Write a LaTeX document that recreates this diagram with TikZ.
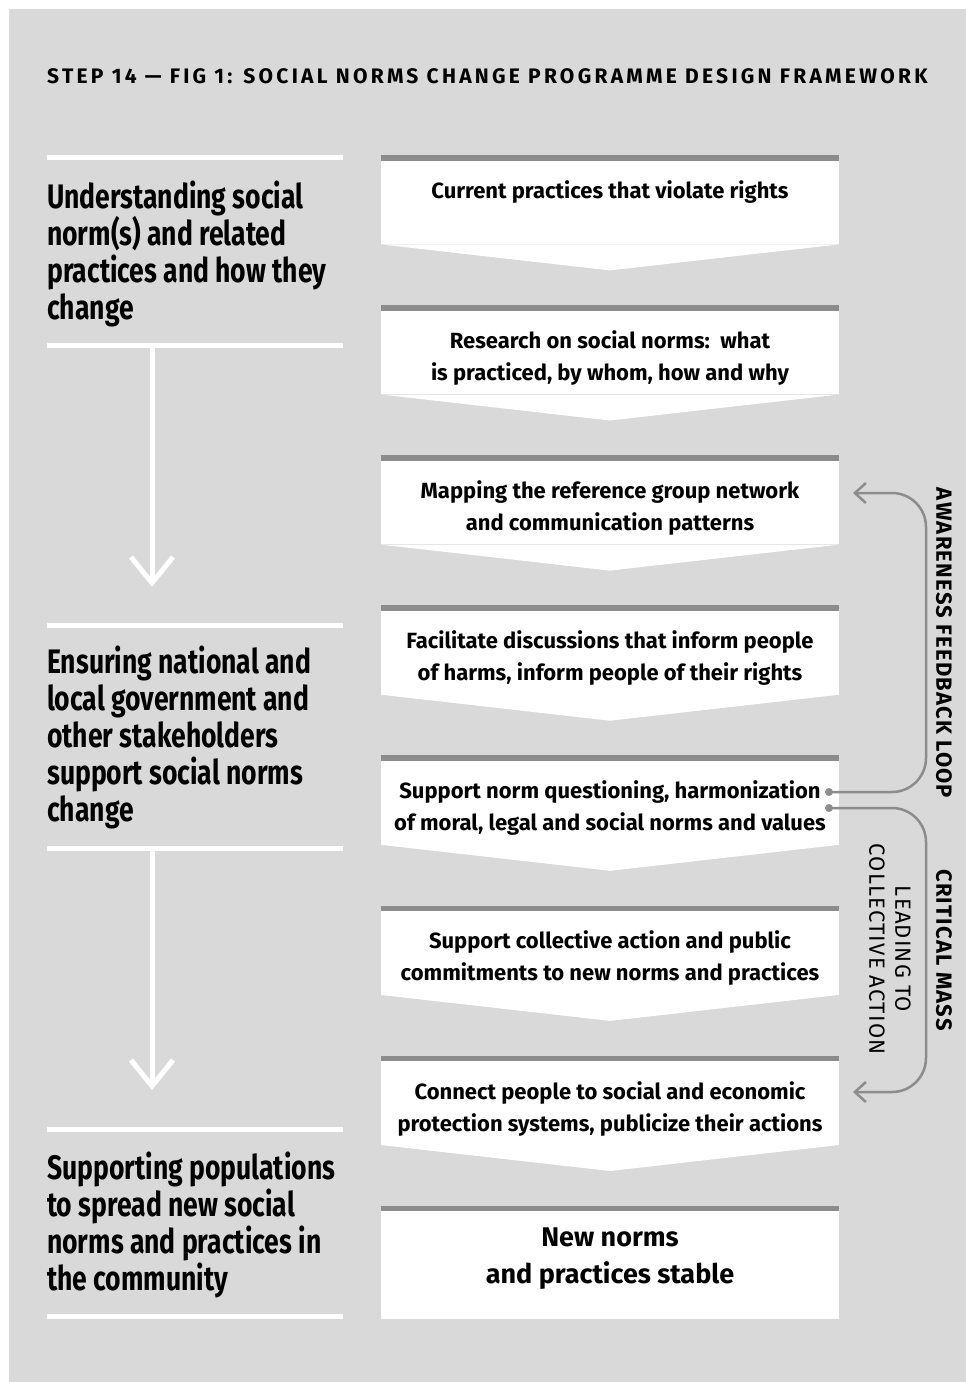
\documentclass[tikz,border=0pt]{standalone}
\usepackage{fontspec}
\setmainfont{Fira Sans}
\newfontfamily\headfont[FakeStretch=0.78]{Fira Sans}
\newfontfamily\boxfont{Fira Sans}
\newfontfamily\titlefont[LetterSpace=15.5]{Fira Sans}
\newfontfamily\labelfont[LetterSpace=5.5]{Fira Sans}
\usetikzlibrary{arrows.meta,positioning}

\definecolor{panelgray}{HTML}{D9D9D9}
\definecolor{bargray}{HTML}{8C8C8C}

\tikzset{
  stage/.style={fill=white, minimum width=458pt, minimum height=89pt, inner sep=0pt, anchor=north},
  stagetext/.style={align=center, inner sep=0pt, font=\boxfont\bfseries\fontsize{22}{32}\selectfont},
  topbar/.style={draw=bargray, line width=5.5pt},
  phasehead/.style={align=left, anchor=north west, inner sep=0pt, font=\headfont\bfseries\fontsize{34}{37}\selectfont},
  sepline/.style={white, line width=5pt},
  phasearrow/.style={white, line width=5pt, -{Straight Barb[length=26pt,width=42pt,line width=5pt]}},
  feedback/.style={bargray, line width=2.5pt, rounded corners=34pt, -{Straight Barb[length=11pt,width=20pt,line width=2.5pt]}},
  dot/.style={circle, fill=bargray, inner sep=0pt, minimum size=8pt},
  looplabel/.style={rotate=-90, inner sep=0pt, font=\labelfont\bfseries\fontsize{22}{26}\selectfont},
  figtitle/.style={inner sep=0pt, font=\titlefont\bfseries\fontsize{21}{23}\selectfont}
}

\begin{document}
\begin{tikzpicture}[x=1pt, y=-1pt, node distance=60.7pt]

  \fill[white] (0,0) rectangle (966,1382);
  \fill[panelgray] (9,9) rectangle (966,1382);
  \useasboundingbox (0,0) rectangle (966,1382);

  \node (title) [figtitle, anchor=west] at (47,76) {STEP 14 — FIG 1: SOCIAL NORMS CHANGE PROGRAMME DESIGN FRAMEWORK};

  % left column
  \foreach \y in {157.5, 345, 625, 848, 1129, 1316}
    \draw[sepline] (47,\y) -- (343,\y);

  \node (h1) [phasehead] at (47,181) {Understanding social\\norm(s) and related\\practices and how they\\change};
  \node (h2) [phasehead] at (47,646) {Ensuring national and\\local government and\\other stakeholders\\support social norms\\change};
  \node (h3) [phasehead] at (47,1152) {Supporting populations\\to spread new social\\norms and practices in\\the community};

  \coordinate (p1) at (152,345);
  \coordinate (p2) at (152,587);
  \coordinate (p3) at (152,848);
  \coordinate (p4) at (152,1090);
  \draw[phasearrow] (p1) -- (p2);
  \draw[phasearrow] (p3) -- (p4);

  % stages
  \node (b1) [stage] at (610,155) {};
  \node (b2) [stage, below=of b1] {};
  \node (b3) [stage, below=of b2] {};
  \node (b4) [stage, below=of b3] {};
  \node (b5) [stage, below=of b4] {};
  \node (b6) [stage, below=of b5] {};
  \node (b7) [stage, below=of b6] {};
  \node (b8) [stage, below=of b7, minimum height=113pt] {};

  \foreach \n in {1,...,7}
    \fill[white] (b\n.south west) -- ([yshift=-26pt]b\n.south) -- (b\n.south east) -- cycle;
  \foreach \n in {1,...,8}
    \draw[topbar] ([yshift=-2.75pt]b\n.north west) -- ([yshift=-2.75pt]b\n.north east);

  \node (t1) [stagetext] at ([yshift=-37pt]b1.north) {Current practices that violate rights};
  \node (t2) [stagetext] at ([yshift=-53pt]b2.north) {Research on social norms:\ \ what\\is practiced, by whom, how and why};
  \node (t3) [stagetext] at ([yshift=-53pt]b3.north) {Mapping the reference group network\\and communication patterns};
  \node (t4) [stagetext] at ([yshift=-53pt]b4.north) {Facilitate discussions that inform people\\of harms, inform people of their rights};
  \node (t5) [stagetext] at ([yshift=-53pt]b5.north) {Support norm questioning, harmonization\\of moral, legal and social norms and values};
  \node (t6) [stagetext] at ([yshift=-53pt]b6.north) {Support collective action and public\\commitments to new norms and practices};
  \node (t7) [stagetext] at ([yshift=-53pt]b7.north) {Connect people to social and economic\\protection systems, publicize their actions};
  \node (t8) [stagetext, font=\boxfont\bfseries\fontsize{27}{37}\selectfont] at ([yshift=-53pt]b8.north) {New norms\\and practices stable};

  % feedback loops
  \node (d1) [dot] at (829,792) {};
  \node (d2) [dot] at (829,808) {};
  \coordinate (f1) at (853,493);
  \coordinate (f2) at (853,1092);

  \draw[feedback] (d1.center) -- (926,792) -- (926,493) -- (f1);
  \draw[feedback] (d2.center) -- (926,808) -- (926,1092) -- (f2);

  \node (aw) [looplabel] at (944,643) {AWARENESS FEEDBACK LOOP};
  \node (cm) [looplabel] at (944,950) {CRITICAL MASS};
  \node (ca) [looplabel, font=\labelfont\fontsize{22}{26}\selectfont, align=center] at (890,949) {LEADING TO\\COLLECTIVE ACTION};

\end{tikzpicture}
\end{document}
